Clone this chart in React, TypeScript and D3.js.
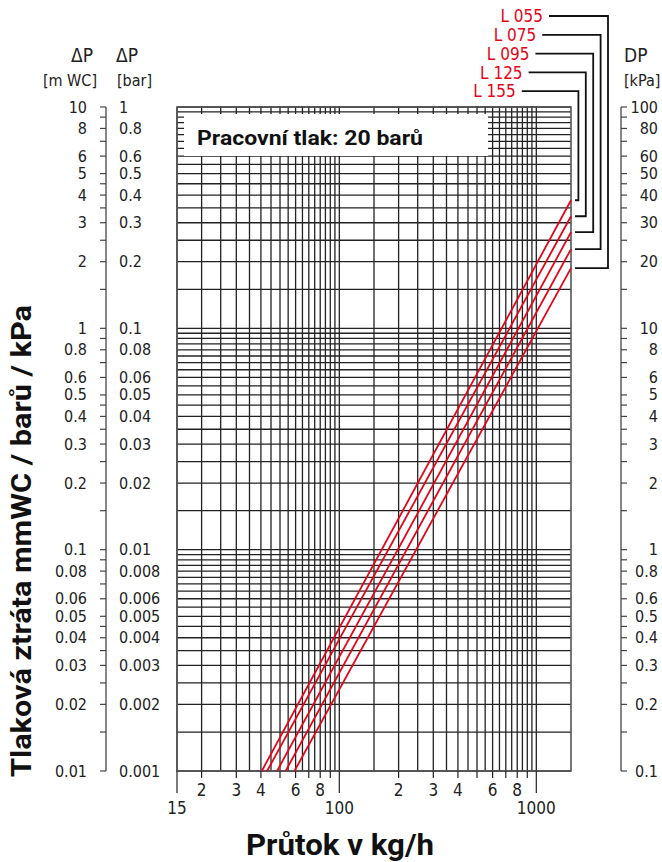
import * as d3 from 'd3';

const W = 662;
const H = 862;

// curves: straight lines in log-log space, from 0.01 m WC up to 1500 kg/h
const seriesNames = ['L 055', 'L 075', 'L 095', 'L 125', 'L 155'];
const flowStart = [59.2, 53.4, 48.3, 43.0, 40.4];
const dpStart = [0.01, 0.01, 0.01, 0.01, 0.01];
const flowEnd = [1500, 1500, 1500, 1500, 1500];
const dpEnd = [1.87, 2.28, 2.72, 3.21, 3.79];

// grid multipliers inside each decade
const gridSteps = [1.5, 2, 2.5, 3, 3.5, 4, 4.5, 5, 5.5, 6, 6.5, 7, 7.5, 8, 8.5, 9, 9.5, 10];
const dpTickSteps = [1, 1.5, 2, 2.5, 3, 3.5, 4, 4.5, 5, 6, 7, 8, 9];
const dpLabelled = [
  0.01, 0.02, 0.03, 0.04, 0.05, 0.06, 0.08,
  0.1, 0.2, 0.3, 0.4, 0.5, 0.6, 0.8,
  1, 2, 3, 4, 5, 6, 8, 10,
];
const flowMajor = [15, 100, 1000];
const flowMinorTicks = [20, 30, 40, 50, 60, 70, 80, 90, 200, 300, 400, 500, 600, 700, 800, 900];
const flowMinorLabels = [20, 30, 40, 60, 80, 200, 300, 400, 600, 800];

const FONT = "'Liberation Sans Narrow', 'DejaVu Sans Condensed', 'Roboto', sans-serif";
const BOLD = "'Roboto', 'Liberation Sans', sans-serif";
const RED = '#e4051a';
const GRID = '#222';

const fmt = (v: number) => String(+v.toPrecision(3));

export default function App() {
  const x = d3.scaleLog().domain([15, 1500]).range([177, 571]);
  const y = d3.scaleLog().domain([0.01, 10]).range([771, 107]);

  const xGrid: number[] = [];
  [10, 100].forEach((d) => gridSteps.forEach((k) => xGrid.push(d * k)));
  const yGrid: number[] = [0.01];
  [0.01, 0.1, 1].forEach((d) => gridSteps.forEach((k) => yGrid.push(d * k)));
  const yTicks: number[] = [];
  [0.01, 0.1, 1].forEach((d) => dpTickSteps.forEach((k) => yTicks.push(d * k)));
  yTicks.push(10);

  const line = d3
    .line<[number, number]>()
    .x((d) => x(d[0]))
    .y((d) => y(d[1]));

  const [x0, x1] = x.range();
  const [y0, y1] = y.range();

  return (
    <svg
      width={W}
      height={H}
      style={{ position: 'absolute', left: 0, top: 0, background: '#fff' }}
    >
      {/* grid */}
      <g stroke={GRID} strokeWidth={1.3}>
        {xGrid.map((v) => (
          <line key={'xg' + v} x1={x(v)} x2={x(v)} y1={y1} y2={y0} />
        ))}
        {yGrid.map((v) => (
          <line key={'yg' + v} x1={x0} x2={x1} y1={y(v)} y2={y(v)} />
        ))}
      </g>
      <rect x={x0} y={y1} width={x1 - x0} height={y0 - y1} fill="none" stroke="#555" strokeWidth={1.6} />

      {/* bottom ticks */}
      <g stroke={GRID} strokeWidth={1.2}>
        {flowMinorTicks.map((v) => (
          <line key={'bt' + v} x1={x(v)} x2={x(v)} y1={y0} y2={y0 + 7} />
        ))}
        {flowMajor.map((v) => (
          <line key={'bm' + v} x1={x(v)} x2={x(v)} y1={y0} y2={y0 + 22} />
        ))}
      </g>
      <g fontFamily={FONT} fontSize={17} fill="#222" textAnchor="middle">
        {flowMinorLabels.map((v) => (
          <text key={'bl' + v} x={x(v)} y={796}>
            {String(v / Math.pow(10, Math.floor(Math.log10(v))))}
          </text>
        ))}
        {flowMajor.map((v) => (
          <text key={'bL' + v} x={x(v)} y={814}>
            {v}
          </text>
        ))}
      </g>

      {/* title box */}
      <rect x={184} y={114} width={304} height={42} fill="#fff" />
      <text
        x={197}
        y={145}
        fontFamily={BOLD}
        fontWeight="bold"
        fontSize={21}
        textLength={226}
        lengthAdjust="spacingAndGlyphs"
        fill="#111"
      >
        Pracovní tlak: 20 barů
      </text>

      {/* curves */}
      <g fill="none" stroke={RED} strokeWidth={1.8}>
        {seriesNames.map((s, i) => (
          <path
            key={s}
            d={line([
              [flowStart[i], dpStart[i]],
              [flowEnd[i], dpEnd[i]],
            ])!}
          />
        ))}
      </g>

      {/* legend leaders */}
      {seriesNames.map((s, i) => {
        const ly = 16 + i * 18.8;
        const tx = 543 - i * 6.8;
        const vx = 608 - i * 7.4;
        const ey = y(dpEnd[i]);
        return (
          <g key={'lg' + s}>
            <text
              x={tx}
              y={ly}
              dy="0.36em"
              textAnchor="end"
              fontFamily={FONT}
              fontSize={17}
              fill={RED}
            >
              {s}
            </text>
            <polyline
              points={`${tx + 6},${ly} ${vx},${ly} ${vx},${ey} 575,${ey}`}
              fill="none"
              stroke="#111"
              strokeWidth={1.8}
            />
          </g>
        );
      })}

      {/* left axis */}
      <line x1={106} x2={106} y1={y1} y2={y0} stroke="#444" strokeWidth={1.3} />
      <g stroke="#444" strokeWidth={1.2}>
        {yTicks.map((v) => (
          <line key={'lt' + v} x1={100} x2={106} y1={y(v)} y2={y(v)} />
        ))}
      </g>
      <g fontFamily={FONT} fontSize={16} fill="#222" dominantBaseline="central">
        {dpLabelled.map((v) => (
          <text key={'lm' + v} x={87} y={y(v)} textAnchor="end">
            {fmt(v)}
          </text>
        ))}
        {dpLabelled.map((v) => (
          <text key={'lb' + v} x={119} y={y(v)} textAnchor="start">
            {fmt(v / 10)}
          </text>
        ))}
      </g>

      {/* right axis */}
      <line x1={621} x2={621} y1={y1} y2={y0} stroke="#444" strokeWidth={1.3} />
      <g stroke="#444" strokeWidth={1.2}>
        {yTicks.map((v) => (
          <line key={'rt' + v} x1={621} x2={627} y1={y(v)} y2={y(v)} />
        ))}
      </g>
      <g fontFamily={FONT} fontSize={16} fill="#222" dominantBaseline="central">
        {dpLabelled.map((v) => (
          <text key={'rk' + v} x={658} y={y(v)} textAnchor="end">
            {fmt(v * 10)}
          </text>
        ))}
      </g>

      {/* axis headers */}
      <g fontFamily={FONT} fill="#222">
        <text x={93} y={62} fontSize={19} textAnchor="end">ΔP</text>
        <text x={97} y={86} fontSize={16} textAnchor="end">[m WC]</text>
        <text x={116} y={62} fontSize={19}>ΔP</text>
        <text x={117} y={86} fontSize={16}>[bar]</text>
        <text x={624} y={62} fontSize={19}>DP</text>
        <text x={624} y={86} fontSize={16}>[kPa]</text>
      </g>

      {/* axis titles */}
      <text
        transform="translate(31,541) rotate(-90)"
        textAnchor="middle"
        fontFamily={BOLD}
        fontWeight="bold"
        fontSize={27}
        textLength={472}
        lengthAdjust="spacingAndGlyphs"
        fill="#111"
      >
        Tlaková ztráta mmWC / barů / kPa
      </text>
      <text
        x={340}
        y={855}
        textAnchor="middle"
        fontFamily={BOLD}
        fontWeight="bold"
        fontSize={30}
        textLength={188}
        lengthAdjust="spacingAndGlyphs"
        fill="#111"
      >
        Průtok v kg/h
      </text>
    </svg>
  );
}
